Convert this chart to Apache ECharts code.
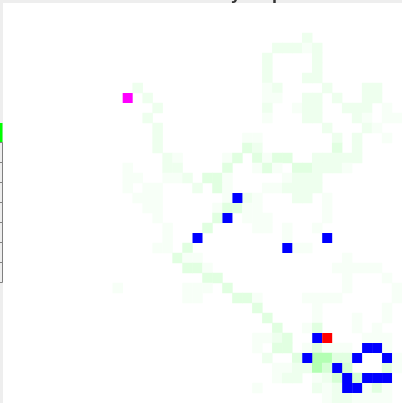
<!DOCTYPE html>
<html>
<head>
<meta charset="utf-8">
<script src="https://cdn.jsdelivr.net/npm/echarts@6/dist/echarts.min.js"></script>
<style>
html,body{margin:0;padding:0;background:#eeeeee;}
#main{width:402px;height:403px;}
</style>
</head>
<body>
<div id="main"></div>
<script>
// grid of 40 x 40 cells
const xCategories = Array.from({length: 40}, (_, i) => String(i));
const yCategories = Array.from({length: 40}, (_, i) => String(i));

// visit density cells: [column, row, visits]
const densityCells = [
  [30,3,2],
  [27,4,2],[28,4,2],[29,4,2],[30,4,1],[31,4,2],
  [26,5,2],[31,5,2],
  [26,6,2],[31,6,2],
  [26,7,2],[30,7,2],[31,7,2],
  [13,8,2],[26,8,1],[27,8,2],[32,8,2],[36,8,2],[37,8,2],
  [14,9,2],[26,9,1],[27,9,1],[30,9,2],[31,9,2],[33,9,2],[36,9,2],[37,9,2],
  [15,10,2],[26,10,2],[29,10,1],[30,10,2],[31,10,2],[34,10,2],[35,10,2],[36,10,2],[38,10,1],
  [14,11,2],[26,11,1],[30,11,2],[31,11,2],[35,11,2],[36,11,1],[38,11,1],[39,11,1],
  [15,12,2],[32,12,2],[36,12,2],[37,12,1],
  [15,13,2],[24,13,1],[25,13,1],[33,13,2],[35,13,2],[38,13,1],
  [15,14,2],[24,14,3.5],[25,14,2],[33,14,3.5],[35,14,2],
  [16,15,2],[17,15,1],[22,15,1],[23,15,3.5],[25,15,3.5],[26,15,1],[27,15,3.5],[28,15,3.5],[31,15,2],[32,15,2],[33,15,2],[34,15,2],[35,15,2],
  [12,16,1],[16,16,2],[17,16,2],[22,16,3.5],[25,16,1],[26,16,3.5],[27,16,1],[29,16,3.5],[30,16,3.5],[31,16,2],[32,16,2],[33,16,2],[34,16,1],
  [12,17,1],[13,17,1],[16,17,1],[17,17,1],[18,17,2],[20,17,3.5],[21,17,3.5],[22,17,1],[28,17,1],[29,17,2],[30,17,2],[31,17,2],
  [12,18,1],[14,18,1],[15,18,1],[19,18,2],[21,18,3.5],[22,18,1],[26,18,1],[27,18,1],[28,18,2],[29,18,2],[30,18,2],[31,18,2],
  [13,19,1],[14,19,1],[15,19,1],[22,19,1],[24,19,2],[25,19,1],[29,19,2],[30,19,2],[32,19,1],
  [14,20,1],[15,20,1],[21,20,1],[22,20,3.5],[23,20,3.5],[24,20,1],[25,20,1],[32,20,1],
  [15,21,1],[21,21,3.5],[24,21,1],[25,21,1],[26,21,1],[32,21,1],
  [16,22,1],[20,22,3.5],[25,22,1],[26,22,1],[28,22,1],[31,22,1],
  [16,23,1],[28,23,1],
  [15,24,1],[16,24,1],[18,24,3.5],[29,24,1],[30,24,1],
  [17,25,3.5],[18,25,1],[19,25,1],[34,25,1],
  [18,26,3.5],[19,26,3.5],[20,26,1],[33,26,1],[34,26,1],[35,26,1],[36,26,1],[37,26,1],
  [20,27,3.5],[21,27,3.5],[34,27,1],[38,27,1],
  [11,28,1],[18,28,1],[19,28,1],[20,28,1],[22,28,3.5],[34,28,1],[39,28,1],
  [18,29,1],[19,29,1],[23,29,3.5],[24,29,3.5],[25,29,1],[30,29,1],[31,29,1],[32,29,1],[33,29,1],[39,29,1],
  [25,30,3.5],[31,30,1],[38,30,1],
  [26,31,3.5],[31,31,1],[35,31,1],[38,31,1],
  [27,32,3.5],[30,32,1],[31,32,3.5],[35,32,1],[37,32,1],
  [25,33,1],[26,33,1],[27,33,2],[28,33,3.5],[36,33,1],[37,33,1],[38,33,1],
  [25,34,1],[27,34,3.5],[28,34,3.5],[30,34,1],[31,34,3.5],[32,34,1],[33,34,1],[34,34,1],[38,34,1],
  [26,35,2],[29,35,3.5],[31,35,9],[32,35,9],[33,35,3.5],[34,35,3.5],[39,35,1],
  [27,36,1],[28,36,1],[29,36,2],[30,36,2],[31,36,9],[32,36,5],[34,36,5],[38,36,3.5],[39,36,1],
  [27,37,1],[28,37,2],[29,37,2],[31,37,1],[32,37,2],[33,37,5],[35,37,5],
  [25,38,1],[31,38,2],[32,38,1],[33,38,2],[36,38,1],[37,38,3.5],[38,38,1],
  [32,39,1],[33,39,2],[34,39,2],[35,39,1],[36,39,1],[37,39,1],[38,39,1]
];

// marked cells: [column, row]
const blueCells = [
  [23,19],[22,21],[19,23],[32,23],[28,24],[31,33],[36,34],[37,34],
  [30,35],[35,35],[38,35],[33,36],[34,37],[36,37],[37,37],[38,37],[34,38],[35,38]
];
const startCells = [[12,9]];
const endCells = [[32,33]];

const chart = echarts.init(document.getElementById('main'));

const legendBoxes = [];
legendBoxes.push({type: 'rect', shape: {x: -20, y: 123, width: 22.5, height: 19.5}, style: {fill: '#00ff00', stroke: null}, silent: true});
for (let k = 0; k < 7; k++) {
  legendBoxes.push({type: 'rect', shape: {x: -20, y: 142.5 + 20 * k, width: 22.5, height: 20}, style: {fill: 'none', stroke: '#808080', lineWidth: 1}, silent: true});
}

chart.setOption({
  animation: false,
  backgroundColor: '#eeeeee',
  title: {
    text: 'Robot Activity map',
    left: 'center',
    top: -20,
    textStyle: {color: '#333', fontSize: 18, fontWeight: 'bold', fontFamily: 'sans-serif'}
  },
  grid: {
    left: 3, top: 3, right: -1, bottom: 0,
    show: true, backgroundColor: '#ffffff', borderWidth: 0
  },
  xAxis: {type: 'category', data: xCategories, show: false, splitArea: {show: false}},
  yAxis: {type: 'category', data: yCategories, inverse: true, show: false, splitArea: {show: false}},
  visualMap: {
    type: 'continuous', show: false, seriesIndex: 0, dimension: 2,
    min: 0, max: 30, inRange: {color: ['#ffffff', '#00ff00']}
  },
  graphic: legendBoxes,
  series: [
    {type: 'heatmap', data: densityCells, emphasis: {disabled: true}, itemStyle: {borderWidth: 0}},
    {type: 'scatter', data: blueCells, symbol: 'rect', symbolSize: 10, itemStyle: {color: '#0000ff', opacity: 1}, emphasis: {disabled: true}},
    {type: 'scatter', data: startCells, symbol: 'rect', symbolSize: 10, itemStyle: {color: '#ff00ff', opacity: 1}, emphasis: {disabled: true}},
    {type: 'scatter', data: endCells, symbol: 'rect', symbolSize: 10, itemStyle: {color: '#ff0000', opacity: 1}, emphasis: {disabled: true}}
  ]
});
</script>
</body>
</html>
